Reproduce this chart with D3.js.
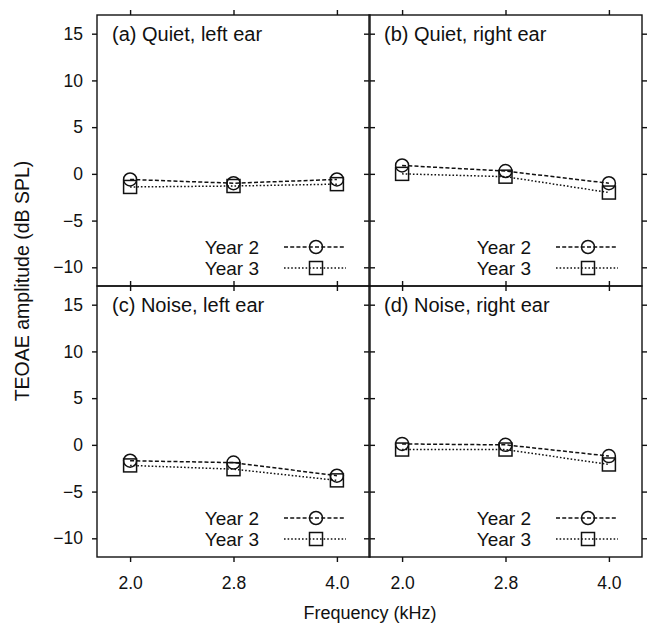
<!DOCTYPE html>
<html><head><meta charset="utf-8">
<script src="https://cdn.jsdelivr.net/npm/d3@7"></script>
<style>body{margin:0;background:#fff}svg{display:block}text{font-family:"Liberation Sans",Arial,sans-serif;fill:#111}</style>
</head><body>
<script>
const frequencies = ["2.0", "2.8", "4.0"];
const yTicks = [15, 10, 5, 0, -5, -10];
const panelTitles = ["(a) Quiet, left ear", "(b) Quiet, right ear", "(c) Noise, left ear", "(d) Noise, right ear"];
const seriesNames = ["Year 2", "Year 3"];
const year2 = [
  [-0.6, -1.0, -0.6],
  [0.9, 0.3, -1.0],
  [-1.7, -1.9, -3.3],
  [0.1, 0.0, -1.2]
];
const year3 = [
  [-1.4, -1.3, -1.1],
  [0.0, -0.3, -2.0],
  [-2.2, -2.6, -3.8],
  [-0.5, -0.5, -2.1]
];

const W = 649, H = 625;
const svg = d3.select("body").append("svg").attr("width", W).attr("height", H);
const colX = [97, 369], colW = 273;
const rowY = [15, 286], rowH = 271;
const styles = [
  {dash: "4,2.2", marker: "circle"},
  {dash: "1.6,2", marker: "square"}
];

function drawMarker(g, type, x, y) {
  if (type === "circle") {
    g.append("circle").attr("cx", x).attr("cy", y).attr("r", 6.5)
      .attr("fill", "none").attr("stroke", "#111").attr("stroke-width", 1.5);
  } else {
    g.append("rect").attr("x", x - 6.5).attr("y", y - 6.5).attr("width", 13).attr("height", 13)
      .attr("fill", "none").attr("stroke", "#111").attr("stroke-width", 1.5);
  }
}

panelTitles.forEach((title, i) => {
  const c = i % 2, r = Math.floor(i / 2);
  const x0 = colX[c], y0 = rowY[r];
  const x = d3.scalePoint().domain(frequencies).range([x0, x0 + colW]).padding(0.32);
  const y = d3.scaleLinear().domain([-12, 17]).range([y0 + rowH, y0]);
  const g = svg.append("g");

  const axL = g.append("g").attr("transform", `translate(${x0},0)`)
    .call(d3.axisLeft(y).tickValues(yTicks).tickSize(5).tickFormat(c === 0 ? (d => d < 0 ? "\u2212" + Math.abs(d) : d) : ""));
  const axR = g.append("g").attr("transform", `translate(${x0 + colW},0)`)
    .call(d3.axisRight(y).tickValues(yTicks).tickSize(5).tickFormat(""));
  const axT = g.append("g").attr("transform", `translate(0,${y0})`)
    .call(d3.axisTop(x).tickSize(5).tickFormat(""));
  const axB = g.append("g").attr("transform", `translate(0,${y0 + rowH})`)
    .call(d3.axisBottom(x).tickSize(5).tickFormat(r === 1 ? (d => d) : ""));
  [axL, axR, axT, axB].forEach(a => {
    a.select(".domain").remove();
    a.selectAll("line").attr("stroke", "#111").attr("stroke-width", 1.4);
    a.selectAll("text").attr("font-size", 17.5).attr("fill", "#111")
      .style("font-family", '"Liberation Sans", Arial, sans-serif');
  });
  axL.selectAll("text").attr("x", -14);
  axB.selectAll("text").attr("y", 32).attr("dy", "0");

  g.append("rect").attr("x", x0).attr("y", y0).attr("width", colW).attr("height", rowH)
    .attr("fill", "none").attr("stroke", "#111").attr("stroke-width", 1.4);

  g.append("text").attr("x", x0 + 15).attr("y", y0 + 26).attr("font-size", 20).text(title);

  [year2[i], year3[i]].forEach((vals, s) => {
    const pts = frequencies.map((f, k) => [x(f), y(vals[k])]);
    g.append("path").attr("d", d3.line()(pts)).attr("fill", "none")
      .attr("stroke", "#111").attr("stroke-width", 1.5).attr("stroke-dasharray", styles[s].dash);
    pts.forEach(p => drawMarker(g, styles[s].marker, p[0], p[1]));
  });

  seriesNames.forEach((name, s) => {
    const ly = y0 + 232 + s * 21;
    g.append("text").attr("x", x0 + 162).attr("y", ly).attr("dy", "0.35em")
      .attr("text-anchor", "end").attr("font-size", 19).text(name);
    g.append("line").attr("x1", x0 + 187).attr("x2", x0 + 249).attr("y1", ly).attr("y2", ly)
      .attr("stroke", "#111").attr("stroke-width", 1.5).attr("stroke-dasharray", styles[s].dash);
    drawMarker(g, styles[s].marker, x0 + 219, ly);
  });
});

svg.append("text").attr("x", 370).attr("y", 619).attr("text-anchor", "middle")
  .attr("font-size", 18).text("Frequency (kHz)");
svg.append("text").attr("transform", "translate(29,281) rotate(-90)").attr("text-anchor", "middle")
  .attr("font-size", 19.5).text("TEOAE amplitude (dB SPL)");
</script>
</body></html>
